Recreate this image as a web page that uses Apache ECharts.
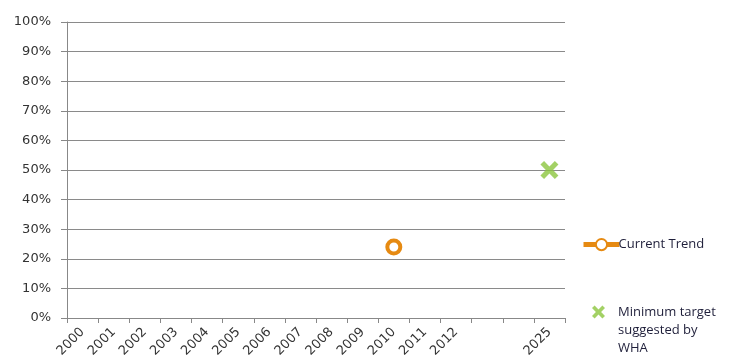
<!DOCTYPE html>
<html><head><meta charset="utf-8">
<script src="https://cdn.jsdelivr.net/npm/echarts@6/dist/echarts.min.js"></script>
<style>html,body{margin:0;padding:0;background:#fff}#c{width:738px;height:361px}</style>
</head><body><div id="c"></div>
<script>
const categories = ['2000','2001','2002','2003','2004','2005','2006','2007','2008','2009','2010','2011','2012','','','2025'];
const currentTrend = [null,null,null,null,null,null,null,null,null,null,0.24,null,null,null,null,null];
const whaTarget = [null,null,null,null,null,null,null,null,null,null,null,null,null,null,null,0.50];
const yMin = 0, yMax = 1, yStep = 0.1;

const xShape = 'path://M2,0 L5,3 L8,0 L10,2 L7,5 L10,8 L8,10 L5,7 L2,10 L0,8 L3,5 L0,2 Z';
// legend icon: same X placed at the top of a taller box (tiny invisible anchor at the bottom)
const xShapeLegend = 'path://M2,0 L5,3 L8,0 L10,2 L7,5 L10,8 L8,10 L5,7 L2,10 L0,8 L3,5 L0,2 Z M5,37.7 L5.01,37.7 L5,37.71 Z';
const font = 'DejaVu Sans';
const chart = echarts.init(document.getElementById('c'));
chart.setOption({
  animation: false,
  backgroundColor: '#fff',
  grid: {left: 67, right: 173, top: 22, bottom: 43},
  legend: [
    {data: ['Current Trend'], left: 576, top: 233, itemWidth: 36, itemHeight: 14, itemGap: 4,
     lineStyle: {width: 5},
     textStyle: {fontFamily: 'Open Sans', fontSize: 13, color: '#1f1f3a', padding: [0,0,0,-6]}},
    {data: [{name: 'Minimum target\nsuggested by\nWHA', icon: xShapeLegend}], left: 587, top: 298, itemWidth: 13, itemHeight: 49, itemGap: 4,
     textStyle: {fontFamily: 'Open Sans', fontSize: 13, color: '#1f1f3a', lineHeight: 18, padding: [0,0,0,8]}}
  ],
  xAxis: {
    type: 'category', data: categories, boundaryGap: true,
    axisLine: {lineStyle: {color: '#888', width: 1}},
    axisTick: {show: true, interval: 0, length: 5, lineStyle: {color: '#888'}},
    axisLabel: {interval: 0, rotate: 45, fontFamily: font, fontSize: 13, color: '#333', margin: 12}
  },
  yAxis: {
    type: 'value', min: yMin, max: yMax, interval: yStep,
    axisLine: {show: true, lineStyle: {color: '#888', width: 1}},
    axisTick: {show: true, length: 6, lineStyle: {color: '#888'}},
    splitLine: {lineStyle: {color: '#8a8a8a', width: 1}},
    axisLabel: {formatter: v => Math.round(v*100) + '%', fontFamily: font, fontSize: 13, color: '#333', margin: 16}
  },
  series: [
    {name: 'Current Trend', type: 'line', data: currentTrend, symbol: 'circle', symbolSize: 13,
     itemStyle: {color: '#fff', borderColor: '#E68A12', borderWidth: 4},
     lineStyle: {color: '#E68A12', width: 5}},
    {name: 'Minimum target\nsuggested by\nWHA', type: 'scatter', data: whaTarget, symbol: xShape, symbolSize: 18,
     itemStyle: {color: '#8CC63E'}}
  ]
});
</script></body></html>
